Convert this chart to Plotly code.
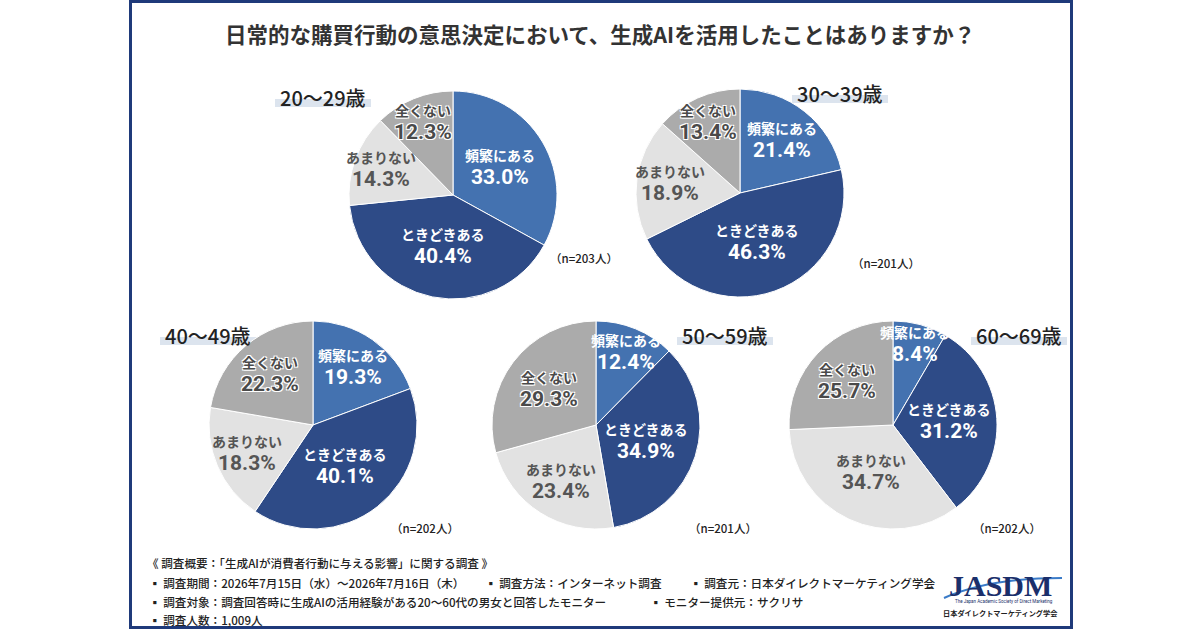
import math
import plotly.graph_objects as go

W, H = 1200, 630

# Data
title_text = "日常的な購買行動の意思決定において、生成AIを活用したことはありますか？"
answers = ["頻繁にある", "ときどきある", "あまりない", "全くない"]
age_groups = ["20〜29歳", "30〜39歳", "40〜49歳", "50〜59歳", "60〜69歳"]
sample_sizes = [203, 201, 202, 201, 202]
share_20s = [33.0, 40.4, 14.3, 12.3]
share_30s = [21.4, 46.3, 18.9, 13.4]
share_40s = [19.3, 40.1, 18.3, 22.3]
share_50s = [12.4, 34.9, 23.4, 29.3]
share_60s = [8.4, 31.2, 34.7, 25.7]
shares = [share_20s, share_30s, share_40s, share_50s, share_60s]

footer = [
    ("《 調査概要：「生成AIが消費者行動に与える影響」に関する調査 》", 145, 563),
    ("▪ 調査期間：2026年7月15日（水）～2026年7月16日（木）", 147, 583),
    ("▪ 調査方法：インターネット調査", 483, 583),
    ("▪ 調査元：日本ダイレクトマーケティング学会", 688, 583),
    ("▪ 調査対象：調査回答時に生成AIの活用経験がある20～60代の男女と回答したモニター", 147, 602),
    ("▪ モニター提供元：サクリサ", 648, 602),
    ("▪ 調査人数：1,009人", 147, 620),
]

# Styling / layout
slice_colors = ["#4472B0", "#2E4B87", "#E2E2E2", "#ABABAB"]
text_colors = ["white", "white", "#555555", "#4A4A4A"]
halo = "-1px -1px 0 #fff, 1px -1px 0 #fff, -1px 1px 0 #fff, 1px 1px 0 #fff"
text_shadows = ["none", "none", "none", halo]
pie_centers = [(453, 195), (740, 193), (313, 425), (596, 425), (893, 425)]
R = 104
age_label_pos = [(323, 97), (840, 93), (208, 335), (725, 335), (1019, 335)]
n_label_pos = [(584, 258), (886, 263), (425, 528), (723, 528), (1007, 528)]
JP = "Noto Sans CJK JP"


def px(x):
    return x / W


def py(y):
    return 1 - y / H


def note(x, y, text, font, **kw):
    d = dict(x=px(x), y=py(y), xref="paper", yref="paper", showarrow=False,
             xanchor="center", yanchor="middle", text=text, font=font)
    d.update(kw)
    return d


fig = go.Figure()
annotations = []
shapes = []

for k, vals in enumerate(shares):
    cx, cy = pie_centers[k]
    fig.add_trace(go.Pie(
        labels=answers,
        values=vals,
        sort=False,
        direction="clockwise",
        rotation=0,
        marker=dict(colors=slice_colors, line=dict(color="white", width=1)),
        textinfo="none",
        hoverinfo="label+value",
        domain=dict(x=[px(cx - R), px(cx + R)], y=[py(cy + R), py(cy - R)]),
        showlegend=False,
    ))

    # slice labels at the middle angle of each slice
    total = sum(vals)
    start = 0.0
    for i, v in enumerate(vals):
        ang = math.radians((start + v / 2) / total * 360)
        start += v
        rf = 0.5 + 0.4 * max(0.0, 35 - v) / 35
        lx = cx + rf * R * math.sin(ang)
        ly = cy - rf * R * math.cos(ang)
        annotations.append(note(
            lx, ly, answers[i],
            dict(family=JP, size=14, color=text_colors[i], weight=700,
                 shadow=text_shadows[i]),
            yshift=12,
        ))
        annotations.append(note(
            lx, ly, f"{v:.1f}%",
            dict(family="Roboto", size=21, color=text_colors[i], weight=700,
                 shadow=text_shadows[i]),
            yshift=-10,
        ))

    # age group label with highlight bar
    ax, ay = age_label_pos[k]
    shapes.append(dict(
        type="rect", xref="paper", yref="paper", layer="below",
        x0=px(ax - 48), x1=px(ax + 48), y0=py(ay + 10), y1=py(ay + 2),
        fillcolor="#DCE4EE", line=dict(width=0),
    ))
    annotations.append(note(
        ax, ay, age_groups[k],
        dict(family=JP, size=20, color="#222222", weight=500),
    ))

    nx, ny = n_label_pos[k]
    annotations.append(note(
        nx, ny, f"（n={sample_sizes[k]}人）",
        dict(family=JP, size=11.5, color="#222222", weight=500),
    ))

# title
annotations.append(note(
    600, 33, title_text,
    dict(family=JP, size=21.5, color="#333333", weight=700),
))

# footer notes
for txt, fx, fy in footer:
    annotations.append(note(
        fx, fy, txt,
        dict(family=JP, size=11.6, color="#222222", weight=500),
        xanchor="left",
    ))

# logo
shapes.append(dict(
    type="path", xref="paper", yref="paper", layer="below",
    path=f"M {px(944)} {py(598)} Q {px(990)} {py(578)} {px(1062)} {py(578)}",
    line=dict(color="#3A7BC8", width=2),
))
annotations.append(note(1001, 585, "JASDM",
                        dict(family="Liberation Serif", size=30, color="#1B2F6B",
                             weight=700)))
annotations.append(note(1004, 601, "The Japan Academic Society of Direct Marketing",
                        dict(family="Roboto", size=4.5, color="#1B2F6B")))
annotations.append(note(1001, 613, "日本ダイレクトマーケティング学会",
                        dict(family=JP, size=7.2, color="#222222", weight=700)))

# frame
shapes.append(dict(
    type="rect", xref="paper", yref="paper",
    x0=px(130.5), x1=px(1071.5), y0=py(627.5), y1=py(1.5),
    line=dict(color="#1F3A7A", width=3),
))

fig.update_layout(
    width=W, height=H,
    margin=dict(l=0, r=0, t=0, b=0),
    paper_bgcolor="white",
    plot_bgcolor="white",
    annotations=annotations,
    shapes=shapes,
)

fig.write_html("out.html", config={"displayModeBar": False},
               post_script="document.body.style.margin='0';")
